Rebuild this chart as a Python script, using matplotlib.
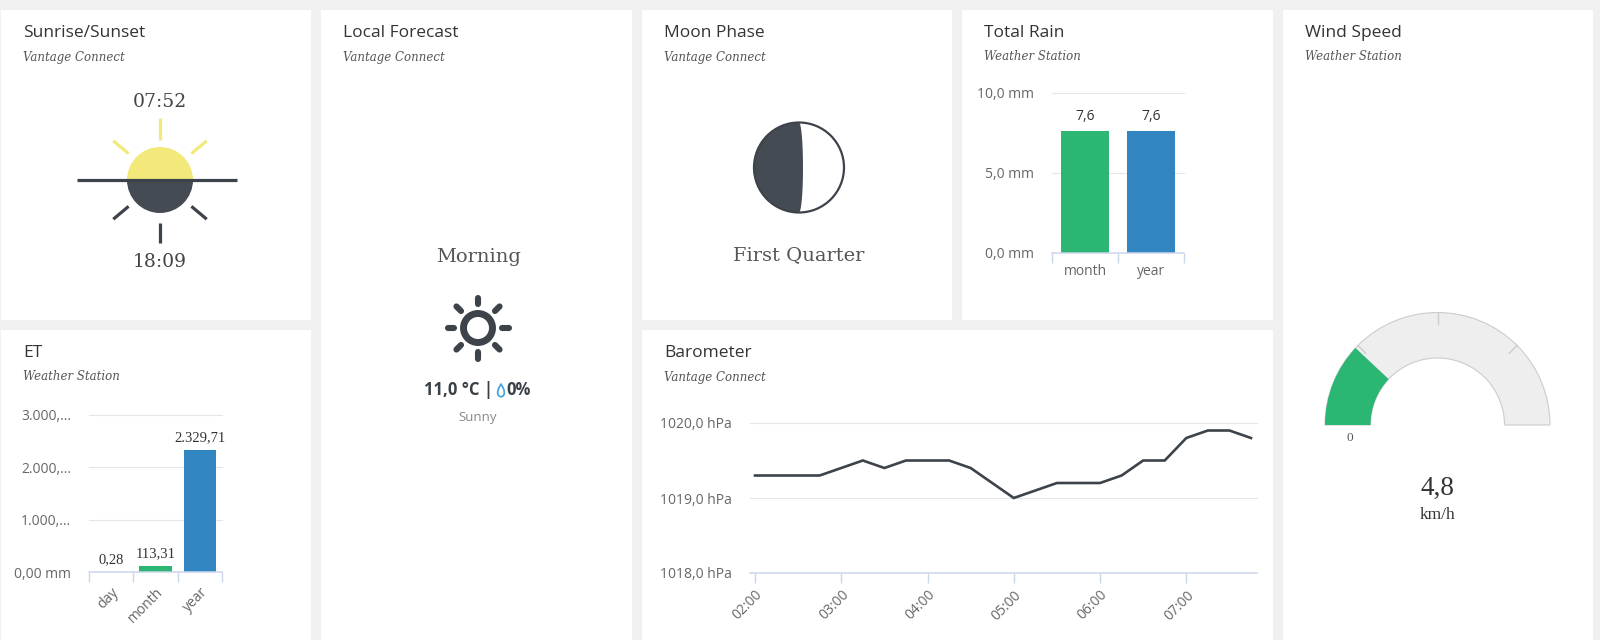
import matplotlib
matplotlib.use("Agg")
import matplotlib.pyplot as plt
from matplotlib.patches import Rectangle, Wedge, Circle, Polygon
import numpy as np

# ---------------- data ----------------
sunrise_time = "07:52"
sunset_time = "18:09"

forecast_period = "Morning"
forecast_temp_c = 11.0
forecast_precip_pct = 0
forecast_condition = "Sunny"

moon_phase_name = "First Quarter"

rain_categories = ["month", "year"]
rain_values_mm = [7.6, 7.6]
rain_yticks = [0, 5, 10]

et_categories = ["day", "month", "year"]
et_values_mm = [0.28, 113.31, 2329.71]
et_yticks = [0, 1000, 2000, 3000]

baro_times = ["02:00", "02:15", "02:30", "02:45", "03:00", "03:15", "03:30", "03:45",
              "04:00", "04:15", "04:30", "04:45", "05:00", "05:15", "05:30", "05:45",
              "06:00", "06:15", "06:30", "06:45", "07:00", "07:15", "07:30", "07:45"]
baro_values_hpa = [1019.3, 1019.3, 1019.3, 1019.3, 1019.4, 1019.5, 1019.4, 1019.5,
                   1019.5, 1019.5, 1019.4, 1019.2, 1019.0, 1019.1, 1019.2, 1019.2,
                   1019.2, 1019.3, 1019.5, 1019.5, 1019.8, 1019.9, 1019.9, 1019.8]
baro_yticks = [1018, 1019, 1020]
baro_hour_ticks = [2, 3, 4, 5, 6, 7]

wind_speed_kmh = 4.8
wind_gauge_max = 20
wind_gauge_ticks = [5, 10, 15]
wind_unit = "km/h"

panels = [
    ("Sunrise/Sunset", "Vantage Connect"),
    ("ET", "Weather Station"),
    ("Local Forecast", "Vantage Connect"),
    ("Moon Phase", "Vantage Connect"),
    ("Total Rain", "Weather Station"),
    ("Barometer", "Vantage Connect"),
    ("Wind Speed", "Weather Station"),
]

# ---------------- style ----------------
W, H = 1600, 640
BG = "#f0f0f0"
GREEN = "#2bb673"
BLUE = "#3186c2"
DARK = "#3d434a"
DARK_FILL = "#454b52"
YELLOW = "#f2e97a"
GRID = "#e6e6e6"
AXIS = "#ccd6eb"
LBL = "#666666"
SANS = ["Open Sans", "DejaVu Sans"]
SERIF_M = ["DejaVu Serif"]
SERIF_T = ["Liberation Serif", "DejaVu Serif"]

plt.rcParams["font.family"] = SANS


def de_num(v, dec):
    s = f"{v:,.{dec}f}"
    return s.replace(",", "X").replace(".", ",").replace("X", ".")


def to_hours(t):
    h, m = t.split(":")
    return int(h) + int(m) / 60.0


fig = plt.figure(figsize=(16, 6.4), dpi=100, facecolor=BG)

canvas = fig.add_axes([0, 0, 1, 1])
canvas.set_xlim(0, W)
canvas.set_ylim(H, 0)
canvas.set_axis_off()


def px_axes(x0, y0, x1, y1):
    return fig.add_axes([x0 / W, 1 - y1 / H, (x1 - x0) / W, (y1 - y0) / H])


# panel boxes (pixel layout)
panel_boxes = [
    (1, 10, 310, 310),
    (1, 330, 310, 310),
    (321, 10, 311, 630),
    (642, 10, 310, 310),
    (962, 10, 311, 310),
    (642, 330, 631, 310),
    (1283, 10, 310, 630),
]
for (x0, y0, w, h), (title, sub) in zip(panel_boxes, panels):
    canvas.add_patch(Rectangle((x0, y0), w, h, facecolor="white", edgecolor="none"))
    canvas.text(x0 + 22, y0 + 23, title, fontsize=12.5, color="#333333",
                va="center", ha="left", family=SANS)
    canvas.text(x0 + 22, y0 + 47, sub, fontsize=8.5, color="#555555", style="italic",
                va="center", ha="left", family=SERIF_M)

# ---------------- Sunrise / Sunset ----------------
scx, scy, sr = 160, 180, 33
canvas.add_patch(Wedge((scx, scy), sr, 180, 360, facecolor=YELLOW, edgecolor="none"))
canvas.add_patch(Wedge((scx, scy), sr, 0, 180, facecolor=DARK_FILL, edgecolor="none"))
canvas.plot([77, 237], [scy, scy], color=DARK, lw=2.3, solid_capstyle="butt")
for ang, col, r0, r1 in [(90, YELLOW, 40, 62), (140, YELLOW, 41, 61), (40, YELLOW, 41, 61),
                         (-90, DARK, 43, 63), (-140, DARK, 41, 61), (-40, DARK, 41, 61)]:
    a = np.deg2rad(ang)
    canvas.plot([scx + r0 * np.cos(a), scx + r1 * np.cos(a)],
                [scy - r0 * np.sin(a), scy - r1 * np.sin(a)],
                color=col, lw=2.3, solid_capstyle="butt")
canvas.text(scx, 102, sunrise_time, fontsize=13.5, color="#444444", ha="center",
            va="center", family=SERIF_M)
canvas.text(scx, 262, sunset_time, fontsize=13.5, color="#444444", ha="center",
            va="center", family=SERIF_M)

# ---------------- Local Forecast ----------------
fcx, fcy = 478, 328
canvas.text(fcx, 257, forecast_period, fontsize=14, color="#555555", ha="center",
            va="center", family=SERIF_M)
canvas.add_patch(Circle((fcx, fcy), 14.5, fill=False, edgecolor=DARK, lw=5))
for k in range(8):
    a = np.deg2rad(k * 45)
    canvas.plot([fcx + 24 * np.cos(a), fcx + 30.5 * np.cos(a)],
                [fcy - 24 * np.sin(a), fcy - 30.5 * np.sin(a)],
                color=DARK, lw=4.4, solid_capstyle="round")
canvas.text(493, 390, de_num(forecast_temp_c, 1) + " °C |", fontsize=12, fontweight="bold",
            color="#3a4047", ha="right", va="center", family=SANS)
t = np.linspace(0, 2 * np.pi, 80)
drop = np.column_stack([501 + 4.3 * np.sin(t) * np.sin(t / 2), 390.5 - 6.2 * np.cos(t)])
canvas.add_patch(Polygon(drop, closed=True, fill=False, edgecolor="#4aa3df", lw=1.3))
canvas.text(506, 390, f"{forecast_precip_pct}%", fontsize=12, fontweight="bold",
            color="#3a4047", ha="left", va="center", family=SANS)
canvas.text(fcx, 417, forecast_condition, fontsize=9.5, color="#888888", ha="center",
            va="center", family=SANS)

# ---------------- Moon Phase ----------------
mcx, mcy, mr = 799, 167.5, 45
canvas.add_patch(Circle((mcx, mcy), mr, facecolor="white", edgecolor="none"))
tl = np.linspace(np.pi / 2, 3 * np.pi / 2, 60)
left = np.column_stack([mcx + mr * np.cos(tl), mcy - mr * np.sin(tl)])
tt = np.linspace(-np.pi / 2, np.pi / 2, 60)
term = np.column_stack([mcx + 4 * np.cos(tt), mcy - mr * np.sin(tt)])
canvas.add_patch(Polygon(np.vstack([left, term]), closed=True, facecolor=DARK_FILL,
                         edgecolor="none"))
canvas.add_patch(Circle((mcx, mcy), mr, fill=False, edgecolor=DARK, lw=1.6))
canvas.text(mcx, 255, moon_phase_name, fontsize=14, color="#555555", ha="center",
            va="center", family=SERIF_M)


# ---------------- bar chart helper ----------------
def style_cat_axis(ax, n, yticks, ylabels, rot):
    ax.set_facecolor("none")
    for s in ["top", "left", "right"]:
        ax.spines[s].set_visible(False)
    ax.spines["bottom"].set_color(AXIS)
    ax.spines["bottom"].set_linewidth(1.1)
    ax.set_xlim(-0.5, n - 0.5)
    ax.set_yticks(yticks)
    ax.set_yticklabels(ylabels)
    ax.tick_params(axis="y", length=0, pad=13, labelsize=10, labelcolor=LBL)
    for v in yticks[1:]:
        ax.axhline(v, color=GRID, lw=0.8, zorder=0, clip_on=False)
    ax.set_xticks(np.arange(-0.5, n, 1.0), minor=True)
    ax.tick_params(axis="x", which="minor", length=7.5, width=1.0, color=AXIS)


# ---------------- ET ----------------
ax_et = px_axes(89, 415, 222, 572)
xe = np.arange(len(et_categories))
ax_et.bar(xe, et_values_mm, width=0.73, color=[YELLOW, GREEN, BLUE], zorder=2)
ax_et.set_ylim(0, 3000)


def et_lab(v):
    s = de_num(v, 2) + " mm"
    return s if len(s) <= 9 else s[:6] + "..."


style_cat_axis(ax_et, len(et_categories), et_yticks, [et_lab(v) for v in et_yticks], 45)
ax_et.set_xticks(xe)
ax_et.set_xticklabels(et_categories, rotation=45, ha="right", va="top", rotation_mode="anchor")
ax_et.tick_params(axis="x", which="major", length=0, pad=9, labelsize=10, labelcolor=LBL)
for x, v in zip(xe, et_values_mm):
    ax_et.annotate(de_num(v, 2), (x, v), xytext=(0, 4), textcoords="offset points",
                   ha="center", va="bottom", fontsize=10.5, color="#333333",
                   family=SERIF_T)

# ---------------- Total Rain ----------------
ax_r = px_axes(1052, 93, 1184, 253)
xr = np.arange(len(rain_categories))
ax_r.bar(xr, rain_values_mm, width=0.73, color=[GREEN, BLUE], zorder=2)
ax_r.set_ylim(0, 10)
style_cat_axis(ax_r, len(rain_categories), rain_yticks,
               [de_num(v, 1) + " mm" for v in rain_yticks], 0)
ax_r.set_xticks(xr)
ax_r.set_xticklabels(rain_categories)
ax_r.tick_params(axis="x", which="major", length=0, pad=8, labelsize=10, labelcolor=LBL)
for x, v in zip(xr, rain_values_mm):
    ax_r.annotate(de_num(v, 1), (x, v), xytext=(0, 5), textcoords="offset points",
                  ha="center", va="bottom", fontsize=10, color="#333333", family=SANS)

# ---------------- Barometer ----------------
ax_b = px_axes(750, 423, 1257, 573)
bx = [to_hours(t) for t in baro_times]
ax_b.set_facecolor("none")
ax_b.plot(bx, baro_values_hpa, color=DARK, lw=1.9, solid_joinstyle="miter", zorder=3)
ax_b.set_xlim(2 - 5 / 86.3, 7.75 + 6 / 86.3)
ax_b.set_ylim(1018, 1020)
for s in ["top", "left", "right"]:
    ax_b.spines[s].set_visible(False)
ax_b.spines["bottom"].set_color(AXIS)
ax_b.spines["bottom"].set_linewidth(1.1)
ax_b.set_yticks(baro_yticks)
ax_b.set_yticklabels([f"{v:.1f}".replace(".", ",") + " hPa" for v in baro_yticks])
ax_b.tick_params(axis="y", length=0, pad=13, labelsize=10, labelcolor=LBL)
for v in baro_yticks[1:]:
    ax_b.axhline(v, color=GRID, lw=0.8, zorder=0, clip_on=False)
ax_b.set_xticks(baro_hour_ticks)
ax_b.set_xticklabels([f"{h:02d}:00" for h in baro_hour_ticks], rotation=45, ha="right",
                     va="top", rotation_mode="anchor")
ax_b.tick_params(axis="x", length=7.5, width=1.0, color=AXIS, pad=3, labelsize=10,
                 labelcolor=LBL)

# ---------------- Wind Speed gauge ----------------
ax_g = px_axes(1310, 300, 1565, 440)
ax_g.set_xlim(-127.5, 127.5)
ax_g.set_ylim(-15, 125)
ax_g.set_axis_off()
R_out, R_in = 112.5, 67.0
ax_g.add_patch(Wedge((0, 0), R_out, 0, 180, width=R_out - R_in, facecolor="#eeeeee",
                     edgecolor="#cccccc", lw=0.8))
frac = wind_speed_kmh / wind_gauge_max
ax_g.add_patch(Wedge((0, 0), R_out, 180 - 180 * frac, 180, width=R_out - R_in,
                     facecolor=GREEN, edgecolor="none", zorder=3))
for tv in wind_gauge_ticks:
    a = np.deg2rad(180 - 180 * tv / wind_gauge_max)
    ax_g.plot([R_out * np.cos(a), (R_out - 11) * np.cos(a)],
              [R_out * np.sin(a), (R_out - 11) * np.sin(a)], color="#cccccc", lw=1.0,
              zorder=2)
ax_g.text(-(R_out + R_in) / 2 + 2, -13, "0", fontsize=9.5, color="#555555",
          ha="center", va="center", family=SERIF_T)
canvas.text(1437.5, 488, de_num(wind_speed_kmh, 1), fontsize=19.5, color="#333333",
            ha="center", va="center", family=SERIF_T)
canvas.text(1437.5, 515, wind_unit, fontsize=12.5, color="#333333", ha="center",
            va="center", family=SERIF_T)

fig.savefig("out.png", dpi=100, facecolor=BG)
